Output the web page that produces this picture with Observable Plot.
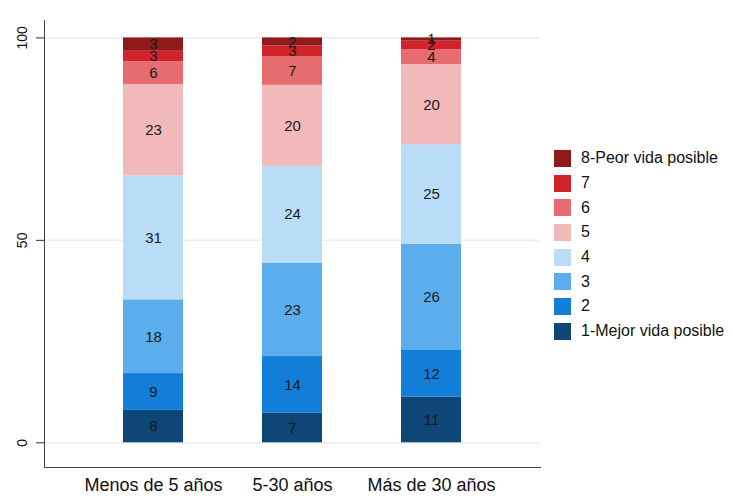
<!DOCTYPE html>
<html>
<head>
<meta charset="utf-8">
<script src="https://cdn.jsdelivr.net/npm/d3@7"></script>
<script src="https://cdn.jsdelivr.net/npm/@observablehq/plot@0.6"></script>
<style>
  html, body { margin: 0; padding: 0; background: #fff; }
  #wrap { position: relative; width: 733px; height: 499px; font-family: "Liberation Sans", Arial, sans-serif; }
  #wrap svg { position: absolute; left: 0; top: 0; }
  #legend { position: absolute; left: 554px; top: 146px; }
  .row { display: flex; align-items: center; height: 24.7px; }
  .sw { width: 17px; height: 17px; margin-right: 10px; }
  .lab { font-size: 16px; color: #111; white-space: nowrap; }
</style>
</head>
<body>
<div id="wrap"><div id="legend"></div></div>
<script>
const groups = ["Menos de 5 años", "5-30 años", "Más de 30 años"];
const categories = ["1-Mejor vida posible", "2", "3", "4", "5", "6", "7", "8-Peor vida posible"];
const colors = ["#0d4677", "#137ed8", "#5badee", "#b9dcf7", "#f2b9ba", "#e76c70", "#d2232a", "#8e1a1e"];
const valuesMenos5 = [8.0, 9.1, 18.2, 30.6, 22.6, 5.6, 2.6, 3.3];
const values5a30 = [7.3, 14.0, 23.1, 23.9, 20.0, 7.0, 2.7, 2.0];
const valuesMas30 = [11.3, 11.5, 26.2, 24.6, 19.8, 3.7, 2.1, 0.8];
const yTicks = [0, 50, 100];

const seriesByGroup = [valuesMenos5, values5a30, valuesMas30];
const data = groups.flatMap((g, gi) =>
  categories.map((c, ci) => ({ group: g, category: c, value: seriesByGroup[gi][ci] }))
);

const chart = Plot.plot({
  width: 733,
  height: 499,
  marginLeft: 44,
  marginRight: 193,
  marginTop: 20,
  marginBottom: 32,
  style: { fontFamily: "Liberation Sans, Arial, sans-serif", background: "transparent" },
  x: { domain: groups, paddingInner: 0.571, paddingOuter: 0.557, axis: null, label: null },
  y: { domain: [-6.1, 104.3], axis: null, label: null },
  color: { domain: categories, range: colors },
  marks: [
    Plot.gridY(yTicks, { stroke: "#e4eef3", strokeOpacity: 1, strokeWidth: 1.5 }),
    Plot.barY(data, { x: "group", y: "value", fill: "category" }),
    Plot.text(data, Plot.stackY({
      x: "group", y: "value", text: d => Math.round(d.value),
      fontSize: 15, fill: "#1a1a1a"
    })),
    Plot.axisY(yTicks, { tickRotate: -90, tickSize: 8, tickPadding: 10, fontSize: 14, stroke: "#333", fill: "#111", label: null }),
    Plot.axisX({ tickSize: 0, tickPadding: 11, fontSize: 18, fill: "#111", label: null }),
    Plot.frame({ anchor: "left", stroke: "#444" }),
    Plot.frame({ anchor: "bottom", stroke: "#444" })
  ]
});
document.getElementById("wrap").prepend(chart);

const legend = document.getElementById("legend");
categories.slice().reverse().forEach((c) => {
  const i = categories.indexOf(c);
  const row = document.createElement("div");
  row.className = "row";
  const sw = document.createElement("div");
  sw.className = "sw";
  sw.style.background = colors[i];
  const lab = document.createElement("div");
  lab.className = "lab";
  lab.textContent = c;
  row.appendChild(sw);
  row.appendChild(lab);
  legend.appendChild(row);
});
</script>
</body>
</html>
